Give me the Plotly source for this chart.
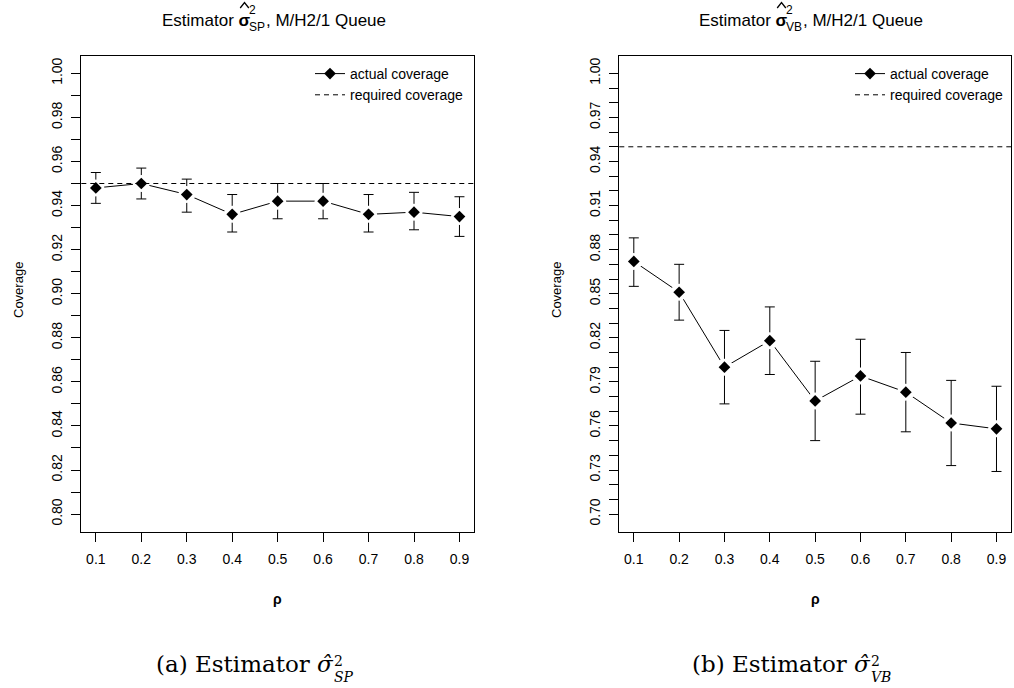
import plotly.graph_objects as go

W, H = 1014, 688

# ---------------- data ----------------
RHO = [0.1, 0.2, 0.3, 0.4, 0.5, 0.6, 0.7, 0.8, 0.9]
RHO_LABELS = ["0.1", "0.2", "0.3", "0.4", "0.5", "0.6", "0.7", "0.8", "0.9"]

SP_COV = [0.948, 0.950, 0.945, 0.936, 0.942, 0.942, 0.936, 0.937, 0.935]
SP_UPPER = [0.955, 0.957, 0.952, 0.945, 0.950, 0.950, 0.945, 0.946, 0.944]
SP_LOWER = [0.941, 0.943, 0.937, 0.928, 0.934, 0.934, 0.928, 0.929, 0.926]

VB_COV = [0.872, 0.851, 0.800, 0.818, 0.777, 0.794, 0.783, 0.762, 0.758]
VB_UPPER = [0.888, 0.870, 0.825, 0.841, 0.804, 0.819, 0.810, 0.791, 0.787]
VB_LOWER = [0.855, 0.832, 0.775, 0.795, 0.750, 0.768, 0.756, 0.733, 0.729]

REQUIRED = 0.95

SP_YTICKS = [0.80, 0.81, 0.82, 0.83, 0.84, 0.85, 0.86, 0.87, 0.88, 0.89, 0.90,
             0.91, 0.92, 0.93, 0.94, 0.95, 0.96, 0.97, 0.98, 0.99, 1.00]
SP_YLABELS = ["0.80", "", "0.82", "", "0.84", "", "0.86", "", "0.88", "", "0.90",
              "", "0.92", "", "0.94", "", "0.96", "", "0.98", "", "1.00"]

VB_YTICKS = [0.70, 0.71, 0.72, 0.73, 0.74, 0.75, 0.76, 0.77, 0.78, 0.79, 0.80,
             0.81, 0.82, 0.83, 0.84, 0.85, 0.86, 0.87, 0.88, 0.89, 0.90,
             0.91, 0.92, 0.93, 0.94, 0.95, 0.96, 0.97, 0.98, 0.99, 1.00]
VB_YLABELS = ["0.70", "", "", "0.73", "", "", "0.76", "", "", "0.79", "",
              "", "0.82", "", "", "0.85", "", "", "0.88", "", "",
              "0.91", "", "", "0.94", "", "", "0.97", "", "", "1.00"]

LEGEND_LABELS = ["actual coverage", "required coverage"]


def px(p):
    return p / W


def py(p):
    return 1 - p / H


SANS = "Liberation Sans"
SERIF = "DejaVu Serif"

fig = go.Figure()


def add_panel(cov, upper, lower, xa, ya, legend_name):
    plus = [u - c for u, c in zip(upper, cov)]
    minus = [c - l for c, l in zip(cov, lower)]
    fig.add_trace(go.Scatter(
        x=RHO, y=cov, mode="lines", xaxis=xa, yaxis=ya, showlegend=False,
        line=dict(color="black", width=1),
        error_y=dict(type="data", symmetric=False, array=plus, arrayminus=minus,
                     color="black", thickness=1, width=5),
        hoverinfo="skip"))
    # white mask to produce the gaps around the points (R type="b")
    fig.add_trace(go.Scatter(
        x=RHO, y=cov, mode="markers", xaxis=xa, yaxis=ya, showlegend=False,
        marker=dict(symbol="circle", size=17, color="white", line=dict(width=0)),
        hoverinfo="skip"))
    fig.add_trace(go.Scatter(
        x=RHO, y=cov, mode="markers", xaxis=xa, yaxis=ya, showlegend=False,
        marker=dict(symbol="diamond", size=9, color="black", line=dict(width=0))))
    # legend entries
    fig.add_trace(go.Scatter(
        x=[None], y=[None], mode="lines+markers", xaxis=xa, yaxis=ya,
        name=LEGEND_LABELS[0], legend=legend_name,
        line=dict(color="black", width=1),
        marker=dict(symbol="diamond", size=9, color="black")))
    fig.add_trace(go.Scatter(
        x=[None], y=[None], mode="lines", xaxis=xa, yaxis=ya,
        name=LEGEND_LABELS[1], legend=legend_name,
        line=dict(color="black", width=1, dash="5px,4px")))
    fig.add_shape(type="line", xref=xa + " domain", x0=0, x1=1,
                  yref=ya, y0=REQUIRED, y1=REQUIRED,
                  line=dict(color="black", width=1, dash="5px,4px"))


add_panel(SP_COV, SP_UPPER, SP_LOWER, "x", "y", "legend")
add_panel(VB_COV, VB_UPPER, VB_LOWER, "x2", "y2", "legend2")

axis_common = dict(showline=True, linecolor="black", linewidth=1, mirror=True,
                   ticks="outside", ticklen=9, tickcolor="black", tickwidth=1,
                   showgrid=False, zeroline=False,
                   tickfont=dict(family=SANS, size=14, color="black"))

ydom = [py(531.7), py(55.7)]
fig.update_layout(
    xaxis=dict(domain=[px(81.3), px(474)], range=[0.068, 0.932],
               tickvals=RHO, ticktext=RHO_LABELS, anchor="y",
               ticklabelstandoff=5, **axis_common),
    yaxis=dict(domain=ydom, range=[0.792, 1.008], tickvals=SP_YTICKS,
               ticktext=SP_YLABELS, tickangle=-90, anchor="x",
               ticklabelstandoff=4, **axis_common),
    xaxis2=dict(domain=[px(619.3), px(1011)], range=[0.068, 0.932],
                tickvals=RHO, ticktext=RHO_LABELS, anchor="y2",
                ticklabelstandoff=5, **axis_common),
    yaxis2=dict(domain=ydom, range=[0.688, 1.012], tickvals=VB_YTICKS,
                ticktext=VB_YLABELS, tickangle=-90, anchor="x2",
                ticklabelstandoff=4, **axis_common),
    legend=dict(x=px(310), y=py(58), xanchor="left", yanchor="top",
                bgcolor="rgba(0,0,0,0)", borderwidth=0,
                font=dict(family=SANS, size=14, color="black")),
    legend2=dict(x=px(850), y=py(58), xanchor="left", yanchor="top",
                 bgcolor="rgba(0,0,0,0)", borderwidth=0,
                 font=dict(family=SANS, size=14, color="black")),
    width=W, height=H, margin=dict(l=0, r=0, t=0, b=0),
    plot_bgcolor="white", paper_bgcolor="white",
)

ann = []


def text(x, y, s, size, family=SANS, xanchor="center", angle=0):
    ann.append(dict(x=px(x), y=py(y), xref="paper", yref="paper", text=s,
                    showarrow=False, xanchor=xanchor, yanchor="middle",
                    textangle=angle, borderpad=0, borderwidth=0,
                    font=dict(family=family, size=size, color="black")))


# titles (stacked super/subscript, hat drawn over sigma)
for off, sub in [(0, "SP"), (537, "VB")]:
    xs = 251 + off
    text(xs, 20, "Estimator <b>σ</b>", 17, xanchor="right")
    text(xs - 2, 10, "2", 12, xanchor="left")
    text(xs - 2, 27, sub, 12, xanchor="left")
    text(xs + 15, 20, ", M/H2/1 Queue", 17, xanchor="left")
    hx = xs - 6.5
    fig.add_shape(type="path", xref="paper", yref="paper",
                  path=f"M {px(hx - 4.3)},{py(8)} L {px(hx)},{py(2.5)} "
                       f"L {px(hx + 4.3)},{py(8)}",
                  line=dict(color="black", width=1.3))

# axis titles
text(18, 290, "Coverage", 13, angle=-90)
text(556, 290, "Coverage", 13, angle=-90)
text(277.7, 599, "<b>ρ</b>", 14)
text(815, 599, "<b>ρ</b>", 14)

# captions
for off, lab, sub in [(0, "(a)", "SP"), (537, "(b)", "VB")]:
    xs = 334 + off
    text(xs, 664, lab + " Estimator <i>σ̂</i>", 23, family=SERIF, xanchor="right")
    text(xs, 661, "2", 14, family=SERIF, xanchor="left")
    text(xs, 677, "<i>" + sub + "</i>", 14, family=SERIF, xanchor="left")

fig.update_layout(annotations=ann)

fig.write_html("out.html")
